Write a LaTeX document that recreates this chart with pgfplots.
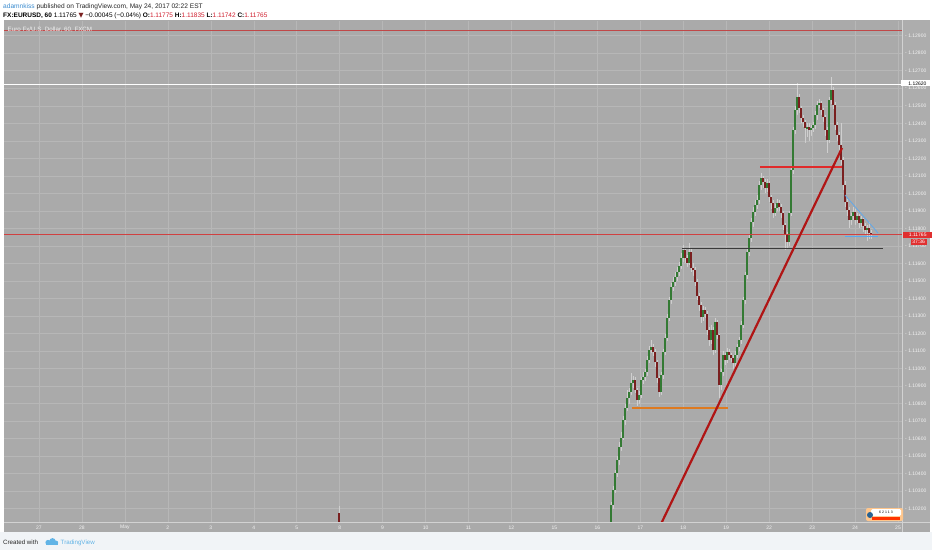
\documentclass[border=0pt]{standalone}
\usepackage{pgfplots}
\pgfplotsset{compat=1.18}
\usepackage{pgfplotstable}
\usepackage{fontspec}
\setmainfont{Liberation Sans}
\newfontfamily\dejavu{DejaVu Sans}
\definecolor{chartbg}{HTML}{AAAAAA}
\definecolor{pricecol}{HTML}{ADADAD}
\definecolor{gridc}{HTML}{B7B7B7}
\definecolor{sepc}{HTML}{D2D2D2}
\definecolor{labc}{HTML}{F2F2F2}
\definecolor{footbg}{HTML}{F1F4F7}
\definecolor{upc}{HTML}{347A34}
\definecolor{dnc}{HTML}{7A2020}
\definecolor{wickc}{HTML}{CFCFCF}
\definecolor{trendred}{HTML}{B01515}
\definecolor{hred}{HTML}{E02A2A}
\definecolor{curred}{HTML}{D04040}
\definecolor{toprd}{HTML}{C04848}
\definecolor{blkc}{HTML}{3A3A3A}
\definecolor{orangec}{HTML}{DE7A20}
\definecolor{bluec}{HTML}{5AA8F0}
\definecolor{userblue}{HTML}{3C8DD0}
\definecolor{valred}{HTML}{D02030}
\definecolor{tvblue}{HTML}{62B4E6}
\definecolor{boxred}{HTML}{E03030}

\pgfplotstableread{
k o h l c
-135 1.10176 1.10215 1.10090 1.10100
1 1.10050 1.10240 1.10000 1.10221
2 1.10221 1.10330 1.10200 1.10307
3 1.10307 1.10420 1.10290 1.10404
4 1.10404 1.10500 1.10380 1.10478
5 1.10478 1.10580 1.10450 1.10552
6 1.10552 1.10640 1.10530 1.10604
7 1.10604 1.10730 1.10590 1.10707
8 1.10707 1.10800 1.10680 1.10775
9 1.10775 1.10878 1.10760 1.10832
10 1.10832 1.10890 1.10800 1.10866
11 1.10866 1.10975 1.10850 1.10918
12 1.10918 1.10960 1.10890 1.10935
13 1.10935 1.10950 1.10860 1.10878
14 1.10878 1.10890 1.10786 1.10821
15 1.10821 1.10870 1.10800 1.10849
16 1.10849 1.10950 1.10830 1.10935
17 1.10935 1.10980 1.10910 1.10952
18 1.10952 1.11000 1.10930 1.10980
19 1.10980 1.11070 1.10960 1.11049
20 1.11049 1.11130 1.11030 1.11106
21 1.11106 1.11163 1.11090 1.11123
22 1.11123 1.11140 1.11070 1.11095
23 1.11095 1.11110 1.11010 1.11038
24 1.11038 1.11050 1.10920 1.10946
25 1.10946 1.10960 1.10838 1.10866
26 1.10866 1.10980 1.10850 1.10963
27 1.10963 1.11110 1.10940 1.11095
28 1.11095 1.11200 1.11080 1.11175
29 1.11175 1.11310 1.11160 1.11289
30 1.11289 1.11410 1.11270 1.11391
31 1.11391 1.11490 1.11370 1.11466
32 1.11466 1.11520 1.11440 1.11494
33 1.11494 1.11550 1.11470 1.11523
34 1.11523 1.11580 1.11500 1.11551
35 1.11551 1.11610 1.11530 1.11586
36 1.11586 1.11660 1.11570 1.11631
37 1.11631 1.11705 1.11610 1.11677
38 1.11677 1.11690 1.11600 1.11631
39 1.11631 1.11650 1.11580 1.11603
40 1.11603 1.11717 1.11590 1.11665
41 1.11665 1.11680 1.11550 1.11574
42 1.11574 1.11600 1.11530 1.11563
43 1.11563 1.11580 1.11470 1.11494
44 1.11494 1.11510 1.11390 1.11414
45 1.11414 1.11430 1.11330 1.11363
46 1.11363 1.11380 1.11260 1.11294
47 1.11294 1.11360 1.11270 1.11334
48 1.11334 1.11350 1.11290 1.11312
49 1.11312 1.11330 1.11190 1.11220
50 1.11220 1.11240 1.11130 1.11163
51 1.11163 1.11250 1.11140 1.11220
52 1.11220 1.11240 1.11080 1.11106
53 1.11106 1.11290 1.11090 1.11266
54 1.11266 1.11280 1.11170 1.11192
55 1.11192 1.11200 1.10832 1.10906
56 1.10906 1.11000 1.10880 1.10980
57 1.10980 1.11100 1.10960 1.11078
58 1.11078 1.11090 1.11020 1.11049
59 1.11049 1.11120 1.11030 1.11095
60 1.11095 1.11110 1.11050 1.11078
61 1.11078 1.11090 1.11040 1.11060
62 1.11060 1.11080 1.11000 1.11032
63 1.11032 1.11100 1.11010 1.11078
64 1.11078 1.11140 1.11060 1.11123
65 1.11123 1.11180 1.11100 1.11163
66 1.11163 1.11270 1.11140 1.11249
67 1.11249 1.11410 1.11230 1.11391
68 1.11391 1.11550 1.11370 1.11534
69 1.11534 1.11690 1.11510 1.11665
70 1.11665 1.11770 1.11640 1.11745
71 1.11745 1.11860 1.11720 1.11837
72 1.11837 1.11920 1.11810 1.11894
73 1.11894 1.11960 1.11870 1.11934
74 1.11934 1.11990 1.11910 1.11962
75 1.11962 1.12070 1.11940 1.12048
76 1.12048 1.12116 1.12020 1.12088
77 1.12088 1.12100 1.12030 1.12065
78 1.12065 1.12080 1.12000 1.12031
79 1.12031 1.12080 1.12010 1.12059
80 1.12059 1.12070 1.11950 1.11979
81 1.11979 1.11990 1.11910 1.11945
82 1.11945 1.11960 1.11860 1.11888
83 1.11888 1.11940 1.11870 1.11917
84 1.11917 1.11970 1.11900 1.11945
85 1.11945 1.11960 1.11900 1.11922
86 1.11922 1.11940 1.11860 1.11888
87 1.11888 1.11900 1.11790 1.11820
88 1.11820 1.11830 1.11677 1.11762
89 1.11762 1.11780 1.11690 1.11722
90 1.11722 1.11900 1.11700 1.11888
91 1.11888 1.12150 1.11870 1.12133
92 1.12133 1.12380 1.12110 1.12362
93 1.12362 1.12500 1.12340 1.12476
94 1.12476 1.12630 1.12450 1.12550
95 1.12550 1.12570 1.12460 1.12487
96 1.12487 1.12500 1.12400 1.12430
97 1.12430 1.12450 1.12380 1.12407
98 1.12407 1.12420 1.12290 1.12373
99 1.12373 1.12400 1.12320 1.12379
100 1.12379 1.12400 1.12300 1.12362
101 1.12362 1.12390 1.12330 1.12373
102 1.12373 1.12410 1.12350 1.12390
103 1.12390 1.12470 1.12370 1.12447
104 1.12447 1.12530 1.12420 1.12504
105 1.12504 1.12540 1.12490 1.12516
106 1.12516 1.12530 1.12450 1.12476
107 1.12476 1.12490 1.12410 1.12436
108 1.12436 1.12450 1.12330 1.12362
109 1.12362 1.12380 1.12230 1.12305
110 1.12305 1.12550 1.12290 1.12533
111 1.12533 1.12664 1.12510 1.12590
112 1.12590 1.12610 1.12480 1.12504
113 1.12504 1.12520 1.12360 1.12390
114 1.12390 1.12410 1.12300 1.12333
115 1.12333 1.12350 1.12250 1.12276
116 1.12276 1.12400 1.12160 1.12191
117 1.12191 1.12210 1.12020 1.12048
118 1.12048 1.12070 1.11920 1.11951
119 1.11951 1.11970 1.11870 1.11905
120 1.11905 1.11920 1.11800 1.11848
121 1.11848 1.11890 1.11820 1.11871
122 1.11871 1.11920 1.11850 1.11894
123 1.11894 1.11910 1.11820 1.11848
124 1.11848 1.11890 1.11830 1.11871
125 1.11871 1.11880 1.11800 1.11831
126 1.11831 1.11870 1.11810 1.11854
127 1.11854 1.11860 1.11780 1.11814
128 1.11814 1.11830 1.11760 1.11791
129 1.11791 1.11820 1.11730 1.11802
130 1.11802 1.11835 1.11742 1.11774
131 1.11774 1.11790 1.11740 1.11765
}\candles

\begin{document}
\begin{tikzpicture}[x=1pt,y=1pt]
\useasboundingbox (0,0) rectangle (932,550);
\fill[white] (0,0) rectangle (932,550);
\fill[footbg] (0,0) rectangle (932,18);
\fill[chartbg] (4,18) rectangle (930,529.5);
\fill[pricecol] (902.7,28) rectangle (930,529.5);

\begin{axis}[at={(4pt,28pt)}, anchor=south west, scale only axis,
  width=898pt, height=501pt,
  xmin=-302.5, xmax=146.5, ymin=1.101243, ymax=1.129839,
  axis line style={draw=none},
  xtick={-285,-263.525,-242.05,-220.575,-199.1,-177.625,-156.15,-134.675,-113.2,-91.725,-70.25,-48.775,-27.3,-5.825,15.65,37.125,58.6,80.075,101.55,123.025,144.5},
  xticklabels={27,28,May,2,3,4,5,8,9,10,11,12,15,16,17,18,19,22,23,24,25},
  ytick={1.102,1.103,1.104,1.105,1.106,1.107,1.108,1.109,1.110,1.111,1.112,1.113,1.114,1.115,1.116,1.117,1.118,1.119,1.120,1.121,1.122,1.123,1.124,1.125,1.126,1.127,1.128,1.129},
  yticklabel pos=right, ytick pos=right,
  major tick length=0pt,
  grid=major, grid style={gridc, line width=0.5pt},
  xtick style={draw=none}, ytick style={draw=none},
  tick label style={font=\fontsize{5}{6}\selectfont, text=labc, inner sep=0pt},
  xticklabel style={anchor=center, yshift=-5.5pt},
  yticklabel style={anchor=west, xshift=3pt},
  yticklabel={-\ \pgfmathprintnumber[fixed,fixed zerofill,precision=5]{\tick}},
  /pgf/number format/assume math mode=true,
  clip mode=individual,
  every axis plot/.append style={mark options={draw=none, fill=none}, mark size=0pt},
]
% wicks
\addplot[only marks, mark=*, forget plot,
  error bars/.cd, y dir=plus, y explicit, error mark=none,
  error bar style={draw=wickc, line width=0.45pt}]
  table[x=k, y=l, y error plus expr={\thisrow{h}-\thisrow{l}}] {\candles};
% up bodies
\addplot[only marks, mark=*, forget plot,
  restrict expr to domain={\thisrow{c}-\thisrow{o}}{0:1},
  error bars/.cd, y dir=both, y explicit, error mark=none,
  error bar style={draw=upc, line width=1.4pt}]
  table[x=k, y expr={(\thisrow{o}+\thisrow{c})/2}, y error expr={(\thisrow{c}-\thisrow{o})/2}] {\candles};
% down bodies
\addplot[only marks, mark=*, forget plot,
  restrict expr to domain={\thisrow{o}-\thisrow{c}}{0.000001:1},
  error bars/.cd, y dir=both, y explicit, error mark=none,
  error bar style={draw=dnc, line width=1.4pt}]
  table[x=k, y expr={(\thisrow{o}+\thisrow{c})/2}, y error expr={(\thisrow{o}-\thisrow{c})/2}] {\candles};
% drawings
\addplot[white, line width=1.3pt, mark=none] coordinates {(-310,1.12620) (150,1.12620)};
\addplot[toprd, line width=0.6pt, mark=none] coordinates {(-310,1.12929) (150,1.12929)};
\addplot[curred, line width=0.55pt, mark=none] coordinates {(-310,1.11765) (150,1.11765)};
\addplot[orangec, line width=1.4pt, mark=none] coordinates {(11.5,1.10775) (59.5,1.10775)};
\addplot[blkc, line width=1.3pt, mark=none] coordinates {(36.5,1.11687) (137,1.11687)};
\addplot[hred, line width=1.4pt, mark=none] coordinates {(75.5,1.12151) (116.5,1.12151)};
\addplot[trendred, line width=2.2pt, mark=none] coordinates {(26.2,1.10118) (116.5,1.12259)};
\addplot[bluec, line width=0.7pt, mark=none] coordinates {(118,1.11990) (134.5,1.11774)};
\addplot[bluec, line width=0.7pt, mark=none] coordinates {(118,1.11757) (134.5,1.11757)};
\end{axis}

% separators
\draw[sepc, line width=0.8pt] (902.7,18) -- (902.7,529.5);
\draw[sepc, line width=0.6pt] (4,28) -- (930,28);

% price labels boxes
\node[fill=white, text=black, inner sep=0pt, minimum width=31pt, minimum height=6pt, anchor=west, font=\fontsize{5}{6}\selectfont] at (901,466.5) {\ 1.12620};
\node[fill=boxred, text=white, inner sep=0pt, minimum width=29pt, minimum height=6pt, anchor=west, font=\fontsize{5}{6}\selectfont] at (903,315.5) {1.11765};
\node[fill=boxred, text=white, inner sep=0pt, minimum width=16pt, minimum height=6pt, anchor=west, font=\fontsize{5}{6}\selectfont] at (910.5,308) {37:36};

% badge
\fill[orange!45!white, rounded corners=2pt] (866,29) rectangle (903,42);
\fill[white, rounded corners=1.5pt] (871,34) rectangle (901,41);
\fill[red!60!orange] (872,30.5) rectangle (900,33);
\fill[userblue!70!black] (870,35) circle (3pt);
\node[font=\fontsize{3.5}{4}\selectfont, text=black, inner sep=0pt] at (886,37.5) {6 2 1 1 3};

% header
\node[anchor=base west, inner sep=0pt, font=\fontsize{6.6}{8}\selectfont] at (3,541.7) {\textcolor{userblue}{adamnkiss} \textcolor{black!85}{published on TradingView.com, May 24, 2017 02:22 EST}};
\node[anchor=base west, inner sep=0pt, font=\fontsize{6.5}{8}\selectfont] at (3,532.7) {\textbf{FX:EURUSD, 60} 1.11765 {\dejavu\textcolor{dnc}{▼}} −0.00045 (−0.04\%) \textbf{O:}\textcolor{valred}{1.11775} \textbf{H:}\textcolor{valred}{1.11835} \textbf{L:}\textcolor{valred}{1.11742} \textbf{C:}\textcolor{valred}{1.11765}};
\node[anchor=base west, inner sep=0pt, font=\fontsize{6.2}{8}\selectfont, text=labc] at (7.5,518.3) {Euro Fx/U.S. Dollar, 60, FXCM};

% footer
\node[anchor=base west, inner sep=0pt, font=\fontsize{6.2}{8}\selectfont, text=black!85] at (3,6) {Created with};
\fill[tvblue] (48,7.5) circle (2.6pt) (52.5,8.7) circle (3.2pt) (56,7.2) circle (2.2pt);
\fill[tvblue] (46,5) rectangle (57.5,7.5);
\node[anchor=base west, inner sep=0pt, font=\fontsize{6.2}{8}\selectfont, text=tvblue] at (60.5,6) {TradingView};
\end{tikzpicture}
\end{document}
